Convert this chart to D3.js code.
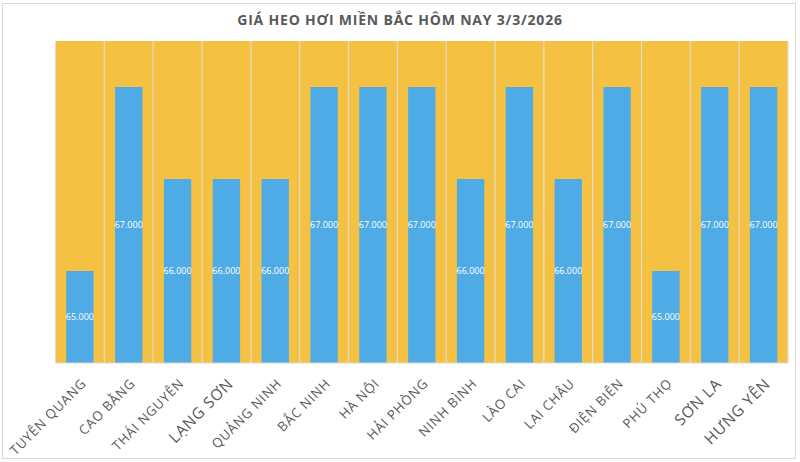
<!DOCTYPE html>
<html>
<head>
<meta charset="utf-8">
<script src="https://cdn.jsdelivr.net/npm/d3@7"></script>
<style>
  body { margin: 0; background: #fff; }
  text { font-family: "Open Sans", "Noto Sans", sans-serif; }
</style>
</head>
<body>
<div class="chart"></div>
<script>
const provinces = ['TUYÊN QUANG', 'CAO BẰNG', 'THÁI NGUYÊN', 'LẠNG SƠN', 'QUẢNG NINH', 'BẮC NINH', 'HÀ NỘI',
  'HẢI PHÒNG', 'NINH BÌNH', 'LÀO CAI', 'LAI CHÂU', 'ĐIỆN BIÊN', 'PHÚ THỌ', 'SƠN LA', 'HƯNG YÊN'];
const prices = [65000, 67000, 66000, 66000, 66000, 67000, 67000, 67000, 66000, 67000, 66000, 67000, 65000, 67000, 67000];
const title = 'GIÁ HEO HƠI MIỀN BẮC HÔM NAY 3/3/2026';

const width = 800, height = 462;
const margin = {top: 41, right: 12, bottom: 99, left: 55.5};
// these few labels are drawn bigger in the original
const bigLabels = ['LẠNG SƠN', 'SƠN LA', 'HƯNG YÊN'];

const svg = d3.select('.chart').append('svg')
  .attr('width', width)
  .attr('height', height);

svg.append('rect')
  .attr('x', 2.5).attr('y', 3.5)
  .attr('width', 793).attr('height', 455)
  .attr('fill', '#fff')
  .attr('stroke', '#d9d9d9');

const x = d3.scaleBand()
  .domain(provinces)
  .range([margin.left, width - margin.right])
  .paddingInner(0);

const y = d3.scaleLinear()
  .domain([64000, 67500])
  .range([height - margin.bottom, margin.top]);

svg.append('rect')
  .attr('x', margin.left)
  .attr('y', margin.top)
  .attr('width', width - margin.left - margin.right)
  .attr('height', height - margin.top - margin.bottom)
  .attr('fill', '#F4C143');

// vertical separators
svg.selectAll('.sep')
  .data(d3.range(provinces.length + 1))
  .enter()
  .append('line')
  .attr('class', 'sep')
  .attr('x1', i => margin.left + i * x.step())
  .attr('x2', i => margin.left + i * x.step())
  .attr('y1', margin.top)
  .attr('y2', height - margin.bottom)
  .attr('stroke', '#e3dccb')
  .attr('stroke-width', 1.2);

const barW = x.bandwidth() * 0.56;

svg.selectAll('.bar')
  .data(provinces)
  .enter()
  .append('rect')
  .attr('class', 'bar')
  .attr('x', d => x(d) + (x.bandwidth() - barW) / 2)
  .attr('width', barW)
  .attr('y', (d, i) => y(prices[i]))
  .attr('height', (d, i) => y(64000) - y(prices[i]))
  .attr('fill', '#4FABE6');

svg.selectAll('.val')
  .data(provinces)
  .enter()
  .append('text')
  .attr('class', 'val')
  .attr('x', d => x(d) + x.bandwidth() / 2)
  .attr('y', (d, i) => (y(prices[i]) + y(64000)) / 2 + 3)
  .attr('text-anchor', 'middle')
  .attr('font-size', 9)
  .attr('fill', '#fff')
  .text((d, i) => d3.format(',')(prices[i]).replace(/,/g, '.'));

// bottom axis line
svg.append('line')
  .attr('x1', margin.left).attr('x2', width - margin.right)
  .attr('y1', height - margin.bottom).attr('y2', height - margin.bottom)
  .attr('stroke', '#d9d9d9');

svg.selectAll('.cat')
  .data(provinces)
  .enter()
  .append('text')
  .attr('class', 'cat')
  .attr('transform', d => 'translate(' + (x(d) + x.bandwidth() / 2 + 4) + ',' + (height - margin.bottom + 18) + ') rotate(-45)')
  .attr('text-anchor', 'end')
  .attr('dy', '0.35em')
  .attr('font-size', d => bigLabels.includes(d) ? 15.5 : 13.2)
  .attr('letter-spacing', 0.8)
  .attr('fill', '#595959')
  .text(d => d);

svg.append('text')
  .attr('x', width / 2)
  .attr('y', 25)
  .attr('text-anchor', 'middle')
  .attr('font-size', 14)
  .attr('font-weight', 'bold')
  .attr('letter-spacing', 0.8)
  .attr('fill', '#595959')
  .text(title);
</script>
</body>
</html>
